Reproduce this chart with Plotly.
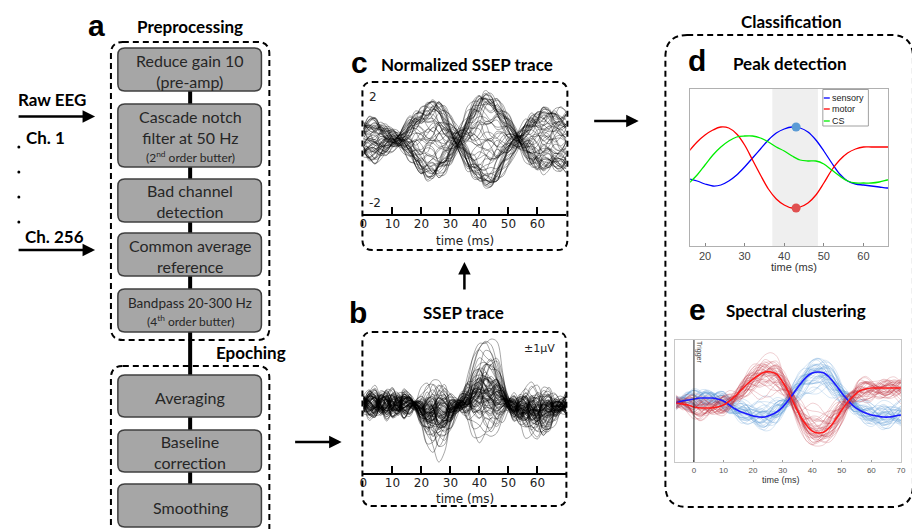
import plotly.graph_objects as go

W, H = 912, 529

# ------------------------------------------------------------------ data
# panels b / c : time grid (ms)
t_bc = [0, 2, 4, 6, 8, 10, 12, 14, 16, 18, 20, 22, 24, 26, 28, 30, 32, 34,
        36, 38, 40, 42, 44, 46, 48, 50, 52, 54, 56, 58, 60, 62, 64, 66, 68, 70]
# normalized SSEP waveform (panel c) and its quadrature (phase-shifted) part
tmpl_c = [-0.5, -0.6, -0.6, -0.5, -0.35, -0.15, 0.0, 0.25, 0.55, 0.85, 1.1, 1.25,
          1.3, 1.25, 1.0, 0.6, 0.15, -0.3, -0.8, -1.2, -1.5, -1.65, -1.6, -1.4,
          -1.05, -0.65, -0.25, 0.1, 0.45, 0.75, 0.95, 1.0, 0.95, 0.95, 0.95, 0.9]
quad_c = [0.0, 0.15, 0.35, 0.55, 0.7, 0.8, 0.85, 0.8, 0.6, 0.4, 0.15, -0.1, -0.4,
          -0.7, -1.0, -1.2, -1.3, -1.3, -1.15, -0.85, -0.45, 0.0, 0.4, 0.8, 1.05,
          1.15, 1.1, 0.95, 0.75, 0.5, 0.25, 0.0, -0.2, -0.35, -0.45, -0.5]
# raw SSEP waveform (panel b)
tmpl_b = [0.1, 0.15, 0.2, 0.2, 0.15, 0.15, 0.2, 0.15, 0.05, -0.1, -0.6, -1.15,
          -1.5, -1.55, -1.35, -0.85, -0.25, 0.3, 0.9, 1.5, 2.0, 2.3, 2.25, 1.8,
          1.0, 0.15, -0.4, -0.6, -0.7, -0.8, -1.0, -1.05, -0.85, -0.5, -0.1, 0.1]
# trace-to-trace jitter components
w1 = [0, 1, 0, -1, 0, 1, 0, -1, 0, 1, 0, -1, 0, 1, 0, -1, 0, 1,
      0, -1, 0, 1, 0, -1, 0, 1, 0, -1, 0, 1, 0, -1, 0, 1, 0, -1]
w2 = [1, 0, -1, 0, 1, 0, -1, 0, 1, 0, -1, 0, 1, 0, -1, 0, 1, 0,
      -1, 0, 1, 0, -1, 0, 1, 0, -1, 0, 1, 0, -1, 0, 1, 0, -1, 0]
w3 = [0, 0.87, 0.87, 0, -0.87, -0.87, 0, 0.87, 0.87, 0, -0.87, -0.87,
      0, 0.87, 0.87, 0, -0.87, -0.87, 0, 0.87, 0.87, 0, -0.87, -0.87,
      0, 0.87, 0.87, 0, -0.87, -0.87, 0, 0.87, 0.87, 0, -0.87, -0.87]
env_b = [1, 1, 1, 1, 1, 1, 1, 1, 0.7, 0.45, 0.7, 1, 1, 1, 1, 0.75, 0.45, 0.6,
         0.9, 0.9, 0.9, 0.9, 0.9, 0.9, 0.7, 0.45, 0.7, 1, 1, 1, 1, 1, 1, 0.7, 0.5, 0.8]
env_c = [0.9, 0.9, 0.85, 0.75, 0.65, 0.55, 0.5, 0.6, 0.8, 0.95, 1, 1, 1, 1, 0.95, 0.7,
         0.5, 0.55, 0.8, 0.95, 1, 1, 1, 0.95, 0.8, 0.6, 0.5, 0.5, 0.65, 0.9, 1, 1,
         1, 1, 1, 1]
amp_c = [1.0, 1.0, 0.98, 0.97, 0.95, 0.93, 0.9, 0.88, 0.85, 0.8, 0.75, 0.7, 0.6,
         0.5, 0.4, 0.3, 0.2, 0.1, 0.0, -0.1, -0.2, -0.3, -0.4, -0.5, -0.6, -0.7,
         -0.75, -0.8, -0.85, -0.88, -0.9, -0.93, -0.95, -0.97, -0.98, -1.0, -1.0,
         -1.02, 1.02, 0.96, -0.96, 0.92, -0.92, 0.65, -0.65, 0.45, -0.45, 0.15,
         -0.15, 0.05, 0.99, -0.99, 0.94, -0.94, 0.86, -0.86, 0.55, -0.55, 0.25,
         -0.25]
amp_b = [1.0, 0.92, 0.85, 0.78, 0.7, 0.65, 0.6, 0.55, 0.5, 0.48, 0.45, 0.42, 0.4,
         0.38, 0.35, 0.33, 0.3, 0.28, 0.25, 0.22, 0.2, 0.18, 0.15, 0.12, 0.1, 0.08,
         0.05, 0.02, 0.0, -0.03, -0.06, -0.1, -0.13, -0.16, -0.2, -0.25, -0.3,
         -0.35, -0.4, -0.5, 0.3, 0.35, 0.4, 0.25, 0.2, 0.45, 0.5, 0.55, 0.32, 0.28,
         0.15, 0.1, 0.05, 0.0, 0.12, 0.22, 0.18, 0.08, -0.05, 0.26, 0.14, 0.24,
         0.34, 0.06, -0.08, 0.19, 0.29, 0.11, 0.03, 0.21, -0.12, 0.16, 0.36, 0.09,
         0.27, -0.02, 0.13, 0.23, 0.31, 0.07]
j1 = [0.42, -0.71, 0.15, 0.88, -0.33, -0.05, 0.61, -0.92, 0.27, 0.74, -0.48, 0.09,
      -0.66, 0.53, 0.31, -0.19, 0.97, -0.84, 0.02, 0.45, -0.58, 0.69, -0.27, 0.12,
      -0.95, 0.38, 0.81, -0.41, -0.13, 0.56, -0.77, 0.24, 0.66, -0.09, -0.52, 0.91,
      -0.36, 0.18, 0.47, -0.63, 0.06, -0.88, 0.72, 0.33, -0.22, 0.59, -0.45, 0.85,
      -0.7, 0.11]
j2 = [-0.35, 0.62, 0.91, -0.14, 0.48, -0.79, 0.23, 0.07, -0.56, 0.83, 0.36, -0.68,
      0.19, -0.93, 0.54, 0.72, -0.26, 0.41, -0.61, 0.1, 0.87, -0.44, 0.67, -0.18,
      0.3, -0.82, 0.04, 0.58, -0.71, 0.39, 0.95, -0.53, -0.08, 0.76, 0.21, -0.37,
      0.64, -0.9, 0.13, 0.49, -0.25, 0.8, -0.6, 0.28, 0.69, -0.12, 0.93, -0.47,
      0.34, -0.74]
j3 = [0.73, 0.18, -0.54, 0.39, 0.86, -0.27, -0.69, 0.51, 0.94, -0.11, 0.25, 0.6,
      -0.83, -0.32, 0.08, 0.77, -0.46, -0.15, 0.63, -0.88, 0.29, 0.03, -0.57, 0.84,
      0.46, -0.2, -0.74, 0.35, 0.92, -0.39, 0.14, 0.7, -0.85, -0.01, 0.57, 0.26,
      -0.64, 0.43, -0.79, 0.19, 0.89, -0.3, 0.07, -0.52, 0.65, 0.37, -0.9, 0.22,
      0.5, -0.16]

# panel d : peak detection
t_d = [16, 18, 20, 22, 24, 26, 28, 30, 32, 34, 36, 38, 40, 42, 44, 46, 48, 50,
       52, 54, 56, 58, 60, 62, 64, 66, 68]
sensory = [-0.45, -0.55, -0.7, -0.8, -0.75, -0.55, -0.25, 0.15, 0.6, 1.05, 1.5,
           1.85, 2.05, 2.15, 2.1, 1.9, 1.5, 0.95, 0.35, -0.2, -0.55, -0.7, -0.75,
           -0.8, -0.85, -0.9, -0.9]
motor = [0.95, 1.4, 1.75, 2.0, 2.15, 2.1, 1.8, 1.25, 0.5, -0.25, -0.95, -1.45,
         -1.75, -1.9, -1.85, -1.65, -1.25, -0.65, 0.0, 0.5, 0.85, 1.05, 1.15, 1.15,
         1.15, 1.15, 1.15]
cs = [-0.65, -0.25, 0.25, 0.75, 1.15, 1.45, 1.65, 1.7, 1.7, 1.6, 1.4, 1.15, 0.95,
      0.7, 0.5, 0.45, 0.45, 0.3, 0.0, -0.3, -0.55, -0.65, -0.65, -0.65, -0.6,
      -0.5, -0.4]
series_names = ["sensory", "motor", "CS"]
series_colors = ["#0000ff", "#ff0000", "#00ee00"]
peak_t = [43, 43]
peak_val = [2.15, -1.9]
peak_colors = ["#5b9bd5", "#e05050"]
window = [37, 48.5]

# panel e : spectral clustering
t_e = [-6, -4, -2, 0, 2, 4, 6, 8, 10, 12, 14, 16, 18, 20, 22, 24, 26, 28, 30, 32,
       34, 36, 38, 40, 42, 44, 46, 48, 50, 52, 54, 56, 58, 60, 62, 64, 66, 68, 70]
red_mean = [-0.2, -0.27, -0.33, -0.47, -0.53, -0.53, -0.53, -0.47, -0.33, -0.07,
            0.27, 0.67, 1.07, 1.4, 1.67, 1.87, 1.87, 1.73, 1.2, 0.53, -0.33, -1.07,
            -1.67, -2.07, -2.2, -2.13, -1.8, -1.27, -0.67, -0.13, 0.27, 0.6, 0.73,
            0.8, 0.8, 0.8, 0.8, 0.8, 0.8]
blue_mean = [-0.2, -0.07, 0.0, 0.07, 0.13, 0.13, 0.13, 0.07, -0.07, -0.33, -0.6,
             -0.8, -0.93, -1.07, -1.13, -1.13, -1.0, -0.8, -0.47, 0.0, 0.53, 1.07,
             1.53, 1.8, 1.87, 1.8, 1.47, 1.0, 0.47, 0.0, -0.4, -0.67, -0.87, -1.0,
             -1.07, -1.13, -1.13, -1.07, -1.0]
we1 = [0, 0.87, 0.87, 0, -0.87, -0.87, 0, 0.87, 0.87, 0, -0.87, -0.87, 0, 0.87,
       0.87, 0, -0.87, -0.87, 0, 0.87, 0.87, 0, -0.87, -0.87, 0, 0.87, 0.87, 0,
       -0.87, -0.87, 0, 0.87, 0.87, 0, -0.87, -0.87, 0, 0.87, 0.87]
we2 = [1, 0.5, -0.5, -1, -0.5, 0.5, 1, 0.5, -0.5, -1, -0.5, 0.5, 1, 0.5, -0.5, -1,
       -0.5, 0.5, 1, 0.5, -0.5, -1, -0.5, 0.5, 1, 0.5, -0.5, -1, -0.5, 0.5, 1, 0.5,
       -0.5, -1, -0.5, 0.5, 1, 0.5, -0.5]
we3 = [0, 0.5, 0.87, 1, 0.87, 0.5, 0, -0.5, -0.87, -1, -0.87, -0.5, 0, 0.5, 0.87,
       1, 0.87, 0.5, 0, -0.5, -0.87, -1, -0.87, -0.5, 0, 0.5, 0.87, 1, 0.87, 0.5,
       0, -0.5, -0.87, -1, -0.87, -0.5, 0, 0.5, 0.87]
amp_red = [1.0, 0.9, 1.1, 1.2, 0.8, 0.95, 1.05, 1.3, 0.7, 0.85, 1.15, 1.25, 0.6,
           0.75, 1.0, 1.4, 0.5, 0.9, 1.1, 0.95, 1.35, 0.65, 0.8, 1.2, 0.45, 1.05,
           0.88, 1.18, 0.35, 0.98, 1.28, 0.72, 1.08, 0.55, 0.92, 1.45, 0.82, 1.02,
           0.62, 1.12]
amp_blue = [0.95, 1.15, 0.85, 1.3, 1.0, 0.7, 1.2, 0.9, 1.4, 0.6, 1.05, 0.8, 1.25,
            0.5, 1.1, 0.98, 0.75, 1.35, 0.4, 1.02, 0.88, 1.18, 0.65, 1.28, 0.92,
            0.55, 1.08, 0.82, 1.45, 0.3, 1.12, 0.78, 0.96, 1.22, 0.68, 1.04, 0.86,
            1.32, 0.58, 1.0]

# ------------------------------------------------------------------ helpers
def px(x):
    return x / W


def py(y):
    return 1 - y / H


def rrect(x0, y0, x1, y1, r):
    pts = [("M", x0 + r, y0), ("L", x1 - r, y0), ("Q", x1, y0, x1, y0 + r),
           ("L", x1, y1 - r), ("Q", x1, y1, x1 - r, y1), ("L", x0 + r, y1),
           ("Q", x0, y1, x0, y1 - r), ("L", x0, y0 + r), ("Q", x0, y0, x0 + r, y0)]
    s = ""
    for p in pts:
        coords = p[1:]
        parts = [f"{px(coords[k]):.5f},{py(coords[k + 1]):.5f}" for k in range(0, len(coords), 2)]
        s += p[0] + " " + " ".join(parts) + " "
    return s + "Z"


def combo(base, amp, comps, coefs, env, scale):
    out = []
    for k in range(len(base)):
        n = sum(c * w[k] for c, w in zip(coefs, comps))
        e = env[k] if env is not None else 1.0
        out.append(amp * base[k] + scale * e * n)
    return out


fig = go.Figure()
N = len(j1)

# ------------------------------------------------------------------ panel c traces
for i in range(len(amp_c)):
    k = i % N
    k2 = (i * 7 + 3) % N
    y = combo(tmpl_c, amp_c[i], [w1, w2, w3], [j1[k], j2[k], j3[k]], env_c, 0.28)
    y = [y[m] + 0.3 * j3[k2] * quad_c[m] for m in range(len(y))]
    fig.add_trace(go.Scatter(x=t_bc, y=y, mode="lines", xaxis="x2", yaxis="y2",
                             line=dict(color="rgba(0,0,0,0.5)", width=0.7, shape="spline"),
                             hoverinfo="skip", showlegend=False))

# ------------------------------------------------------------------ panel b traces
for i in range(len(amp_b)):
    k = (i + 17) % N
    k2 = (i * 3 + 5) % N
    y = combo(tmpl_b, amp_b[i], [w1, w2, w3], [j1[k], j2[k], j3[k2]], env_b, 0.33)
    fig.add_trace(go.Scatter(x=t_bc, y=y, mode="lines", xaxis="x3", yaxis="y3",
                             line=dict(color="rgba(0,0,0,0.5)", width=0.7, shape="spline"),
                             hoverinfo="skip", showlegend=False))

# ------------------------------------------------------------------ panel d
for name, vals, col in zip(series_names, [sensory, motor, cs], series_colors):
    fig.add_trace(go.Scatter(x=t_d, y=vals, mode="lines", xaxis="x4", yaxis="y4",
                             name=name, line=dict(color=col, width=1.3, shape="spline"),
                             showlegend=False))
fig.add_trace(go.Scatter(x=peak_t, y=peak_val, mode="markers", xaxis="x4", yaxis="y4",
                         marker=dict(color=peak_colors, size=9), showlegend=False))

# ------------------------------------------------------------------ panel e
for i in range(len(amp_blue)):
    k = (i + 10) % N
    y = combo(blue_mean, amp_blue[i], [we1, we2, we3], [j1[k], j2[k], j3[k]], None, 0.45)
    fig.add_trace(go.Scatter(x=t_e, y=y, mode="lines", xaxis="x5", yaxis="y5",
                             line=dict(color="rgba(85,150,210,0.33)", width=0.7, shape="spline"),
                             hoverinfo="skip", showlegend=False))
for i in range(len(amp_red)):
    y = combo(red_mean, amp_red[i], [we1, we2, we3], [j2[i], j3[i], j1[i]], None, 0.45)
    fig.add_trace(go.Scatter(x=t_e, y=y, mode="lines", xaxis="x5", yaxis="y5",
                             line=dict(color="rgba(190,50,60,0.33)", width=0.7, shape="spline"),
                             hoverinfo="skip", showlegend=False))
fig.add_trace(go.Scatter(x=t_e, y=blue_mean, mode="lines", xaxis="x5", yaxis="y5",
                         line=dict(color="#1a1aff", width=1.6, shape="spline"), showlegend=False))
fig.add_trace(go.Scatter(x=t_e, y=red_mean, mode="lines", xaxis="x5", yaxis="y5",
                         line=dict(color="#ff1a1a", width=1.6, shape="spline"), showlegend=False))

# ------------------------------------------------------------------ shapes
shapes = []
DASH = "6px,4px"
shapes.append(dict(type="line", xref="paper", yref="paper", x0=px(188), x1=px(188),
                   y0=py(91), y1=py(484), line=dict(color="black", width=4)))
for (x0, y0, x1, y1, r) in [(108, 42, 268, 340, 12), (108, 366, 268, 545, 12),
                            (362, 82, 569, 250, 10), (362, 332, 568, 506, 10),
                            (668, 35, 918, 507, 22)]:
    shapes.append(dict(type="path", path=rrect(x0, y0, x1, y1, r), xref="paper", yref="paper",
                       line=dict(color="black", width=2, dash=DASH)))
boxes = [(48, 91), (104, 167), (179, 222), (233, 276), (289, 332),
         (375, 417), (430, 472), (484, 527)]
for (y0, y1) in boxes:
    shapes.append(dict(type="path", path=rrect(115, y0, 260, y1, 7), xref="paper", yref="paper",
                       fillcolor="#a6a6a6", line=dict(color="#404040", width=1.5)))
for yd in [147, 172, 197, 222]:
    shapes.append(dict(type="circle", xref="paper", yref="paper", x0=px(13.5), x1=px(16.5),
                       y0=py(yd + 1.5), y1=py(yd - 1.5), fillcolor="black", line=dict(width=0)))
shapes.append(dict(type="rect", xref="x4", yref="y4 domain", x0=window[0], x1=window[1],
                   y0=0, y1=1, fillcolor="#efefef", line=dict(width=0), layer="below"))
shapes.append(dict(type="rect", xref="paper", yref="paper", x0=px(827), x1=px(873),
                   y0=py(126), y1=py(89.5), fillcolor="white", line=dict(color="#a0a0a0", width=1)))
for yy, col in zip([98, 109, 121], series_colors):
    shapes.append(dict(type="line", xref="paper", yref="paper", x0=px(828), x1=px(834),
                       y0=py(yy), y1=py(yy), line=dict(color=col, width=1.3)))
shapes.append(dict(type="line", xref="x5", yref="y5 domain", x0=0, x1=0, y0=0, y1=1,
                   line=dict(color="#222", width=1)))

# ------------------------------------------------------------------ annotations
ann = []


def text(x, y, s, size, family="Lato", color="#262626", bold=False, xanchor="center", angle=0):
    if bold:
        s = "<b>" + s + "</b>"
    ann.append(dict(x=px(x), y=py(y), xref="paper", yref="paper", text=s, showarrow=False,
                    xanchor=xanchor, yanchor="middle", textangle=angle,
                    font=dict(family=family, size=size, color=color)))


def arrow(x0, y0, x1, y1):
    ann.append(dict(x=px(x1), y=py(y1), xref="paper", yref="paper", ax=x0 - x1, ay=y0 - y1,
                    axref="pixel", ayref="pixel", text="", showarrow=True, arrowhead=2,
                    arrowsize=1, arrowwidth=2.5, arrowcolor="black"))


LET = "Liberation Sans"
TS = 17   # title size
BS = 16   # box text size
text(93, 25, "a", 30, LET, "black", True)
text(188, 26, "Preprocessing", TS, "Lato", "black", True)
text(249, 352, "Epoching", TS, "Lato", "black", True)
text(48, 99, "Raw EEG", TS, "Lato", "black", True)
text(42, 137, "Ch. 1", TS, "Lato", "black", True)
text(51, 236, "Ch. 256", TS, "Lato", "black", True)
arrow(14, 116.5, 92, 116.5)
arrow(14, 250, 92, 250)

text(188, 71, "Reduce gain 10<br>(pre-amp)", BS)
text(188, 127, "Cascade notch<br>filter at 50 Hz", BS)
text(188, 157, "(2<sup>nd</sup> order butter)", 12)
text(188, 201, "Bad channel<br>detection", BS)
text(188, 256, "Common average<br>reference", BS)
text(188, 303, "Bandpass 20-300 Hz", 13.5)
text(188, 321, "(4<sup>th</sup> order butter)", 12)
text(188, 397, "Averaging", BS)
text(188, 452, "Baseline<br>correction", BS)
text(188, 507, "Smoothing", BS)

arrow(293, 442, 341, 442)
arrow(465, 291, 465, 262)
arrow(595, 121, 641, 121)

text(359, 62, "c", 30, LET, "black", True)
text(468, 64, "Normalized SSEP trace", TS, "Lato", "black", True)
text(373, 97, "2", 12, "DejaVu Sans", "#222")
text(375, 203, "-2", 12, "DejaVu Sans", "#222")
text(466, 241, "time (ms)", 12, "DejaVu Sans", "#222")

text(358, 312, "b", 30, LET, "black", True)
text(464, 312, "SSEP trace", TS, "Lato", "black", True)
text(541, 348, "±1µV", 11, "DejaVu Sans", "#222")
text(466, 499, "time (ms)", 12, "DejaVu Sans", "#222")

text(795, 21, "Classification", TS, "Lato", "black", True)
text(700, 61, "d", 30, LET, "black", True)
text(794, 63, "Peak detection", TS, "Lato", "black", True)
for yy, nm in zip([98, 109, 121], series_names):
    text(834, yy, nm, 9, LET, "#222", xanchor="left")
text(798, 267, "time (ms)", 11, LET, "#333")

text(700, 309, "e", 30, LET, "black", True)
text(800, 310, "Spectral clustering", TS, "Lato", "black", True)
text(785, 480, "time (ms)", 9, LET, "#333")
text(702, 352, "Trigger", 7, LET, "#444", angle=90)

# ------------------------------------------------------------------ layout
ticks_bc = [0, 10, 20, 30, 40, 50, 60, 70]
ticktext_bc = ["0", "10", "20", "30", "40", "50", "60", ""]
bc_x = dict(range=[0, 70], showline=True, linecolor="black", linewidth=2, ticks="inside",
            ticklen=7, tickwidth=2, tickcolor="black", tickvals=ticks_bc, ticktext=ticktext_bc,
            tickfont=dict(family="DejaVu Sans", size=12, color="#222"), showgrid=False,
            zeroline=False, fixedrange=True, ticklabelstandoff=-2)
fig.update_layout(
    width=W, height=H, margin=dict(l=0, r=0, t=0, b=0),
    paper_bgcolor="white", plot_bgcolor="rgba(0,0,0,0)", showlegend=False,
    xaxis=dict(visible=False, domain=[0, 0.01], range=[0, 1]),
    yaxis=dict(visible=False, domain=[0, 0.01], range=[0, 1]),
    xaxis2=dict(domain=[px(363), px(568)], anchor="y2", **bc_x),
    yaxis2=dict(domain=[py(214), py(90)], anchor="x2", range=[-2.85, 1.92], visible=False),
    xaxis3=dict(domain=[px(363), px(568)], anchor="y3", **bc_x),
    yaxis3=dict(domain=[py(473), py(333)], anchor="x3", range=[-2.27, 2.4], visible=False),
    xaxis4=dict(domain=[px(693), px(893)], anchor="y4", range=[16.25, 66.25], showline=True,
                mirror=True, linecolor="#b0b0b0", linewidth=1, ticks="inside", ticklen=3,
                tickcolor="#888", tickvals=[20, 30, 40, 50, 60],
                tickfont=dict(family=LET, size=11, color="#444"), showgrid=False, zeroline=False),
    yaxis4=dict(domain=[py(246), py(89)], anchor="x4", range=[-3.8, 4.05], showline=True,
                mirror=True, linecolor="#b0b0b0", linewidth=1, ticks="", showticklabels=False,
                showgrid=False, zeroline=False),
    xaxis5=dict(domain=[px(678), px(906)], anchor="y5", range=[-6.3, 70.05], showline=True,
                mirror=True, linecolor="#c8c8c8", linewidth=1, ticks="inside", ticklen=2,
                tickcolor="#999", tickvals=[0, 10, 20, 30, 40, 50, 60, 70],
                tickfont=dict(family=LET, size=8, color="#555"), showgrid=False, zeroline=False),
    yaxis5=dict(domain=[py(462), py(340)], anchor="x5", range=[-4.13, 4.0], showline=True,
                mirror=True, linecolor="#c8c8c8", linewidth=1, ticks="", showticklabels=False,
                showgrid=False, zeroline=False),
    shapes=shapes, annotations=ann,
)

fig.write_html("out.html", config={"displayModeBar": False},
               post_script="document.body.style.margin='0';")
